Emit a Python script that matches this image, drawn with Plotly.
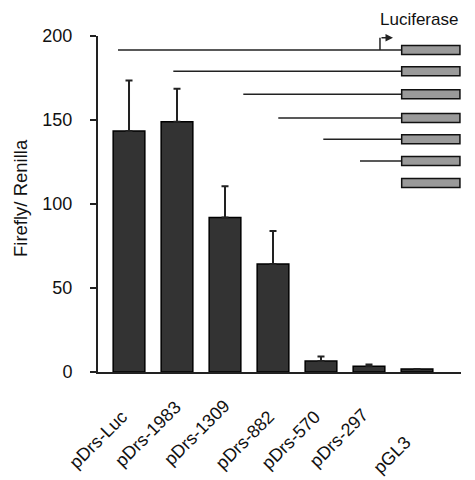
import plotly.graph_objects as go

# ---- data ----
constructs = ["pDrs-Luc", "pDrs-1983", "pDrs-1309", "pDrs-882", "pDrs-570", "pDrs-297", "pGL3"]
ratio = [143.5, 149.0, 92.0, 64.3, 6.5, 3.4, 1.8]
ratio_err = [30.0, 19.6, 18.5, 19.7, 2.8, 1.0, 0.0]
y_ticks = [0, 50, 100, 150, 200]

FONT = "Liberation Sans, Arial, sans-serif"
DARK = "#222222"

# page offset of the plotly div inside the html body (default body margin)
OFF = 8
W, H = 475 - OFF, 480 - OFF
# plot area in the target picture (pixels)
PX0, PX1, PY0, PY1 = 98, 461, 36, 372
L, T = PX0 - OFF, PY0 - OFF
R = W - L - (PX1 - PX0)
B = H - T - (PY1 - PY0)


def paper(px, py):
    return (px - PX0) / (PX1 - PX0), (PY1 - py) / (PY1 - PY0)


fig = go.Figure()
fig.add_trace(go.Bar(
    x=list(range(len(constructs))), y=ratio,
    width=0.66,
    marker=dict(color="#333333", line=dict(color="#000000", width=1.5)),
    error_y=dict(type="data", array=ratio_err, arrayminus=[0] * len(ratio),
                 symmetric=False, color=DARK, thickness=2, width=3.5),
    showlegend=False,
))

# ---- construct diagram (layout geometry) ----
row_y = [191.7, 179.0, 165.3, 151.2, 138.5, 125.6, 112.5]
line_start = [-0.229, 0.923, 2.381, 3.110, 4.048, 4.8125, None]
box_x0, box_x1, box_h = 5.681, 6.895, 2.7
shapes = []
for yy, xs in zip(row_y, line_start):
    if xs is not None:
        shapes.append(dict(type="line", xref="x", yref="y", x0=xs, x1=box_x0, y0=yy, y1=yy,
                           line=dict(color=DARK, width=1.5)))
    shapes.append(dict(type="rect", xref="x", yref="y", x0=box_x0, x1=box_x1,
                       y0=yy - box_h, y1=yy + box_h,
                       fillcolor="#9a9a9a", line=dict(color="#111111", width=1.5)))
# bent arrow (promoter)
shapes.append(dict(type="line", xref="x", yref="y", x0=5.229, x1=5.229, y0=row_y[0], y1=199.0,
                   line=dict(color=DARK, width=1.5)))

annotations = [
    dict(x=5.50, y=199.0, ax=5.229, ay=199.0, xref="x", yref="y", axref="x", ayref="y",
         text="", showarrow=True, arrowhead=2, arrowsize=1, arrowwidth=1.5, arrowcolor=DARK),
]
lx, ly = paper(460, 20)
annotations.append(dict(x=lx, y=ly, xref="paper", yref="paper", text="Luciferase",
                        showarrow=False, xanchor="right", yanchor="middle",
                        font=dict(family=FONT, size=17, color="#111")))
tx, ty = paper(21, 198)
annotations.append(dict(x=tx, y=ty, xref="paper", yref="paper", text="Firefly/ Renilla",
                        showarrow=False, textangle=-90, xanchor="center", yanchor="middle",
                        font=dict(family=FONT, size=18.5, color="#111")))

# rotated category labels (centres measured on the target picture)
label_centres = [(98, 440), (148, 434), (196.5, 433), (245, 440), (291, 440), (339, 438), (392, 455)]
for name, (cx, cy) in zip(constructs, label_centres):
    ax_, ay_ = paper(cx, cy)
    annotations.append(dict(x=ax_, y=ay_, xref="paper", yref="paper", text=name,
                            showarrow=False, textangle=-45, xanchor="center", yanchor="middle",
                            font=dict(family=FONT, size=18, color="#111")))

fig.update_layout(
    width=W, height=H,
    margin=dict(l=L, r=R, t=T, b=B),
    plot_bgcolor="white", paper_bgcolor="white",
    font=dict(family=FONT, color="#111"),
    shapes=shapes, annotations=annotations,
    xaxis=dict(range=[-0.646, 6.917], tickvals=list(range(len(constructs))),
               showticklabels=False, ticks="", showline=True, linecolor=DARK, linewidth=2,
               showgrid=False, zeroline=False),
    yaxis=dict(range=[0, 200], tickvals=y_ticks, ticks="outside", ticklen=6, tickwidth=2,
               tickcolor=DARK, showline=True, linecolor=DARK, linewidth=2,
               showgrid=False, zeroline=False, tickfont=dict(size=18, family=FONT),
               ticklabelstandoff=14),
)

fig.write_html("out.html")
